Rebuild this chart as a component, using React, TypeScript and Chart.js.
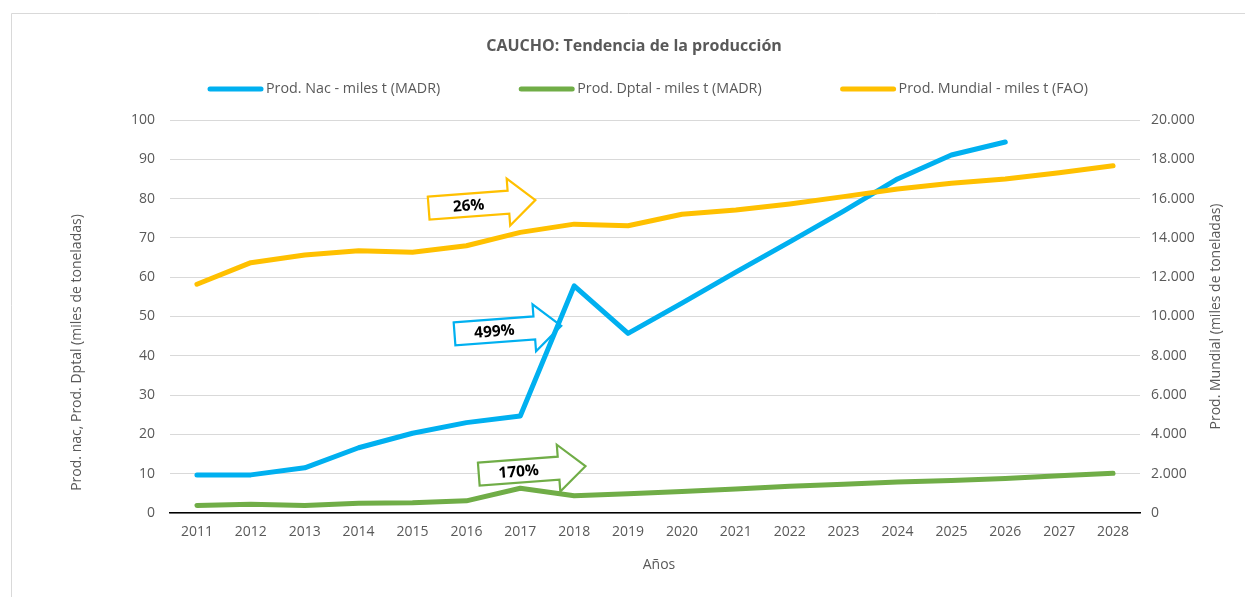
import React, { useEffect, useRef } from 'react';
import { Chart, registerables } from 'chart.js';

Chart.register(...registerables);

// Years on the category axis
const years = [
  '2011', '2012', '2013', '2014', '2015', '2016', '2017', '2018', '2019',
  '2020', '2021', '2022', '2023', '2024', '2025', '2026', '2027', '2028',
];

// National production, thousand tonnes (MADR) – no projection after 2026
const prodNac = [
  9.7, 9.7, 11.5, 16.6, 20.3, 23.0, 24.7, 57.8, 45.7,
  53.4, 61.3, 69.0, 76.8, 85.0, 91.1, 94.4, null, null,
];

// Departmental production, thousand tonnes (MADR)
const prodDptal = [
  1.9, 2.2, 1.9, 2.45, 2.6, 3.1, 6.3, 4.4, 4.9,
  5.5, 6.1, 6.8, 7.3, 7.9, 8.3, 8.8, 9.5, 10.1,
];

// World production, thousand tonnes (FAO) – right axis
const prodMundial = [
  11640, 12740, 13130, 13350, 13270, 13600, 14280, 14700, 14620,
  15200, 15420, 15730, 16100, 16490, 16780, 17000, 17320, 17670,
];

// Axis ranges
const leftMax = 100;
const leftStep = 10;
const rightMax = 20000;
const rightStep = 2000;

const BLUE = '#00B0F0';
const GREEN = '#70AD47';
const ORANGE = '#FFC000';
const TEXT = '#595959';
const FONT = "'Open Sans', 'Liberation Sans', sans-serif";

const seriesNames = [
  'Prod. Nac - miles t (MADR)',
  'Prod. Dptal - miles t (MADR)',
  'Prod. Mundial - miles t (FAO)',
];
const seriesColors = [BLUE, GREEN, ORANGE];

// Growth call-outs: anchored at a fractional category index and a left-axis value
const calloutLabels = ['26%', '499%', '170%'];
const calloutColors = [ORANGE, BLUE, GREEN];
const calloutIndex = [5.29, 5.77, 6.22];
const calloutValue = [78.6, 46.6, 10.9];

const fmtThousands = (v: number) =>
  String(Math.round(v)).replace(/\B(?=(\d{3})+(?!\d))/g, '.');

function drawArrow(ctx: CanvasRenderingContext2D, cx: number, cy: number, color: string, label: string) {
  const L = 107;
  const bodyH = 23;
  const headH = 47;
  const headL = 27;
  const half = L / 2;
  const neck = half - headL;
  ctx.save();
  ctx.translate(cx, cy);
  ctx.rotate((-4.3 * Math.PI) / 180);
  ctx.beginPath();
  ctx.moveTo(-half, -bodyH / 2);
  ctx.lineTo(neck, -bodyH / 2);
  ctx.lineTo(neck, -headH / 2);
  ctx.lineTo(half, 0);
  ctx.lineTo(neck, headH / 2);
  ctx.lineTo(neck, bodyH / 2);
  ctx.lineTo(-half, bodyH / 2);
  ctx.closePath();
  ctx.fillStyle = '#ffffff';
  ctx.fill();
  ctx.lineWidth = 2.2;
  ctx.strokeStyle = color;
  ctx.lineJoin = 'miter';
  ctx.stroke();
  ctx.fillStyle = '#000000';
  ctx.font = `bold 15.5px ${FONT}`;
  ctx.textAlign = 'center';
  ctx.textBaseline = 'middle';
  ctx.fillText(label, (-half + neck) / 2, 1);
  ctx.restore();
}

const decorPlugin = {
  id: 'decor',
  beforeDraw(chart: any) {
    const { ctx, width, height } = chart;
    ctx.save();
    ctx.fillStyle = '#ffffff';
    ctx.fillRect(0, 0, width, height);
    // outer frame
    ctx.strokeStyle = '#d9d9d9';
    ctx.lineWidth = 1;
    ctx.beginPath();
    ctx.moveTo(11.5, height);
    ctx.lineTo(11.5, 13.5);
    ctx.lineTo(width, 13.5);
    ctx.stroke();

    // title
    ctx.fillStyle = TEXT;
    ctx.font = `bold 16px ${FONT}`;
    ctx.textAlign = 'center';
    ctx.textBaseline = 'middle';
    ctx.fillText('CAUCHO: Tendencia de la producción', 634, 46);

    // legend
    ctx.font = `14.3px ${FONT}`;
    const lineW = 55;
    const gapText = 3;
    const gapItem = 79;
    const widths = seriesNames.map((n) => ctx.measureText(n).width);
    const total = widths.reduce((a, w) => a + lineW + gapText + w, 0) + gapItem * (seriesNames.length - 1);
    let x = 648 - total / 2;
    const ly = 89;
    seriesNames.forEach((name, i) => {
      ctx.strokeStyle = seriesColors[i];
      ctx.lineWidth = 5;
      ctx.lineCap = 'round';
      ctx.beginPath();
      ctx.moveTo(x + 2, ly);
      ctx.lineTo(x + lineW - 2, ly);
      ctx.stroke();
      ctx.fillStyle = TEXT;
      ctx.textAlign = 'left';
      ctx.fillText(name, x + lineW + gapText, ly);
      x += lineW + gapText + widths[i] + gapItem;
    });

    // axis titles
    ctx.font = `14px ${FONT}`;
    const area = chart.chartArea;
    const midY = (area.top + area.bottom) / 2;
    ctx.textAlign = 'center';
    ctx.save();
    ctx.translate(77, midY + 36);
    ctx.rotate(-Math.PI / 2);
    ctx.fillText('Prod. nac, Prod. Dptal (miles de toneladas)', 0, 0);
    ctx.restore();
    ctx.save();
    ctx.translate(1216, midY);
    ctx.rotate(-Math.PI / 2);
    ctx.fillText('Prod. Mundial (miles de toneladas)', 0, 0);
    ctx.restore();
    ctx.fillText('Años', (area.left + area.right) / 2 + 4, 565);
    ctx.restore();
  },
  beforeDatasetsDraw(chart: any) {
    const { ctx } = chart;
    const xs = chart.scales.x;
    const ys = chart.scales.y;
    const step = xs.getPixelForValue(1) - xs.getPixelForValue(0);
    calloutLabels.forEach((label, i) => {
      const cx = xs.getPixelForValue(0) + calloutIndex[i] * step;
      const cy = ys.getPixelForValue(calloutValue[i]);
      drawArrow(ctx, cx, cy, calloutColors[i], label);
    });
  },
};

export default function App() {
  const canvasRef = useRef<HTMLCanvasElement | null>(null);

  useEffect(() => {
    if (!canvasRef.current) return;
    const tickFont = { family: FONT, size: 14 };
    const chart = new Chart(canvasRef.current, {
      type: 'line',
      data: {
        labels: years,
        datasets: [
          {
            label: seriesNames[0],
            data: prodNac,
            borderColor: BLUE,
            backgroundColor: BLUE,
            borderWidth: 5,
            pointRadius: 0,
            borderCapStyle: 'round',
            borderJoinStyle: 'round',
            yAxisID: 'y',
            order: 2,
          },
          {
            label: seriesNames[1],
            data: prodDptal,
            borderColor: GREEN,
            backgroundColor: GREEN,
            borderWidth: 5,
            pointRadius: 0,
            borderCapStyle: 'round',
            borderJoinStyle: 'round',
            yAxisID: 'y',
            order: 3,
          },
          {
            label: seriesNames[2],
            data: prodMundial,
            borderColor: ORANGE,
            backgroundColor: ORANGE,
            borderWidth: 5,
            pointRadius: 0,
            borderCapStyle: 'round',
            borderJoinStyle: 'round',
            yAxisID: 'y1',
            order: 1,
          },
        ],
      },
      options: {
        animation: false,
        responsive: true,
        maintainAspectRatio: false,
        layout: { padding: { top: 120, left: 0, right: 0, bottom: 0 } },
        plugins: {
          legend: { display: false },
          title: { display: false },
          tooltip: { enabled: false },
        },
        scales: {
          x: {
            type: 'category',
            offset: true,
            grid: { display: false, drawTicks: false },
            border: { display: true, color: '#000000', width: 1.5 },
            ticks: { color: TEXT, font: tickFont, padding: 11, maxRotation: 0, autoSkip: false },
            afterFit: (s: any) => { s.height = 84; },
          },
          y: {
            position: 'left',
            min: 0,
            max: leftMax,
            grid: { color: '#d9d9d9', lineWidth: 1, drawTicks: false },
            border: { display: false },
            ticks: { stepSize: leftStep, color: TEXT, font: tickFont, padding: 15 },
            afterFit: (s: any) => { s.width = 170; },
          },
          y1: {
            position: 'right',
            min: 0,
            max: rightMax,
            grid: { display: false, drawTicks: false },
            border: { display: false },
            ticks: {
              stepSize: rightStep,
              color: TEXT,
              font: tickFont,
              padding: 11,
              callback: (v: any) => fmtThousands(Number(v)),
            },
            afterFit: (s: any) => { s.width = 105; },
          },
        },
      },
      plugins: [decorPlugin],
    } as any);
    return () => chart.destroy();
  }, []);

  return (
    <div style={{ position: 'fixed', left: 0, top: 0, width: 1245, height: 597, background: '#fff' }}>
      <canvas ref={canvasRef} />
    </div>
  );
}
